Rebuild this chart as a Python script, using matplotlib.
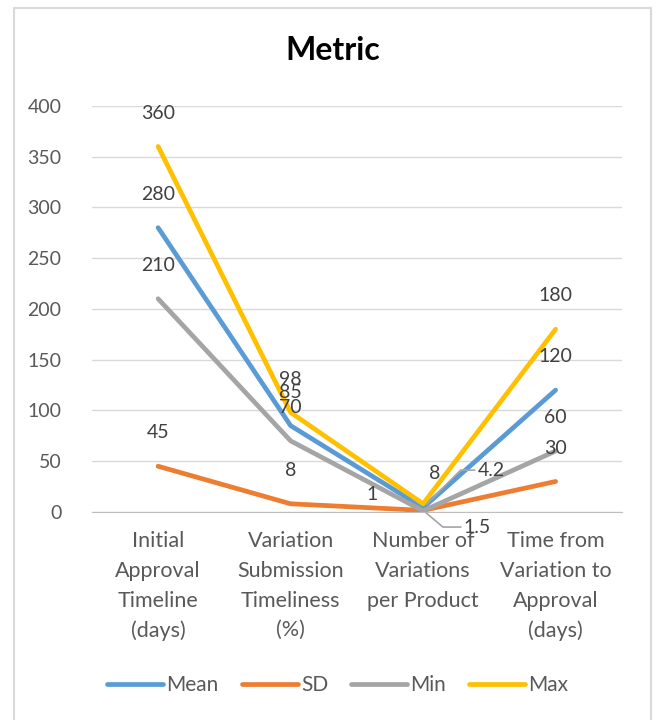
import matplotlib.pyplot as plt
from matplotlib.lines import Line2D

categories = ['Initial\nApproval\nTimeline\n(days)', 'Variation\nSubmission\nTimeliness\n(%)',
              'Number of\nVariations\nper Product', 'Time from\nVariation to\nApproval\n(days)']
mean = [280, 85, 4.2, 120]
sd = [45, 8, 1.5, 30]
mins = [210, 70, 1, 60]
maxs = [360, 98, 8, 180]
yticks = [0, 50, 100, 150, 200, 250, 300, 350, 400]

plt.rcParams['font.family'] = ['Lato', 'DejaVu Sans']

fig = plt.figure(figsize=(6.56, 7.2), dpi=100)
ax = fig.add_axes([0.140, 0.289, 0.808, 0.564])

series = [('Mean', mean, '#5B9BD5'), ('SD', sd, '#ED7D31'),
          ('Min', mins, '#A5A5A5'), ('Max', maxs, '#FFC000')]
x = list(range(len(categories)))
for name, vals, col in series:
    ax.plot(x, vals, color=col, lw=3.4, label=name, solid_capstyle='round', zorder=3)

lab_col = '#404040'
fs = 14
# default labels above each point
for name, vals, col in series:
    for i, v in enumerate(vals):
        if i == 2:
            continue
        ax.annotate(f'{v:g}', (i, v), xytext=(0, 24), textcoords='offset points',
                    ha='center', va='center', fontsize=fs, color=lab_col)

# crowded labels at the third category
ax.annotate(f'{maxs[2]:g}', (2, maxs[2]), xytext=(8, 22), textcoords='offset points',
            ha='center', va='center', fontsize=fs, color=lab_col)
ax.annotate(f'{mins[2]:g}', (2, mins[2]), xytext=(-37, 12), textcoords='offset points',
            ha='center', va='center', fontsize=fs, color=lab_col)
ax.annotate(f'{mean[2]:g}', (2, mean[2]), xytext=(49, 27), textcoords='offset points',
            ha='center', va='center', fontsize=fs, color=lab_col,
            arrowprops=dict(arrowstyle='-', color='#A5A5A5', lw=1.2, relpos=(0, 0.5),
                            connectionstyle='angle,angleA=0,angleB=45,rad=0',
                            shrinkA=0, shrinkB=3))
ax.annotate(f'{sd[2]:g}', (2, sd[2]), xytext=(39, -12), textcoords='offset points',
            ha='center', va='center', fontsize=fs, color=lab_col,
            arrowprops=dict(arrowstyle='-', color='#A5A5A5', lw=1.2, relpos=(0, 0.5),
                            connectionstyle='angle,angleA=0,angleB=-40,rad=0',
                            shrinkA=0, shrinkB=3))

ax.set_xlim(-0.5, 3.5)
ax.set_ylim(0, 400)
ax.set_yticks(yticks)
ax.set_xticks(x)
ax.set_xticklabels(categories, fontsize=15.5, color='#595959', linespacing=1.6)
ax.tick_params(axis='y', labelsize=14, labelcolor='#595959', length=0, pad=22)
ax.tick_params(axis='x', length=0, pad=14)
ax.grid(axis='y', color='#D9D9D9', lw=1)
ax.set_axisbelow(True)
for s in ['top', 'right', 'left']:
    ax.spines[s].set_visible(False)
ax.spines['bottom'].set_color('#BFBFBF')

fig.text(0.508, 0.930, 'Metric', ha='center', va='center', fontsize=23,
         fontweight='bold', color='black')

handles = [Line2D([0], [0], color=c, lw=3.4, solid_capstyle='round') for _, _, c in series]
fig.legend(handles, [n for n, _, _ in series], loc='center', bbox_to_anchor=(0.515, 0.048),
           ncol=4, frameon=False, fontsize=15, handlelength=2.7, handletextpad=0.15,
           columnspacing=1.1, labelcolor='#595959')

# chart border
fig.add_artist(Line2D([14/656, 14/656, 651/656, 651/656], [0, 1 - 8/720, 1 - 8/720, 0],
                      transform=fig.transFigure, color='#D9D9D9', lw=1.5))

fig.savefig('out.png', dpi=100, facecolor='white')
